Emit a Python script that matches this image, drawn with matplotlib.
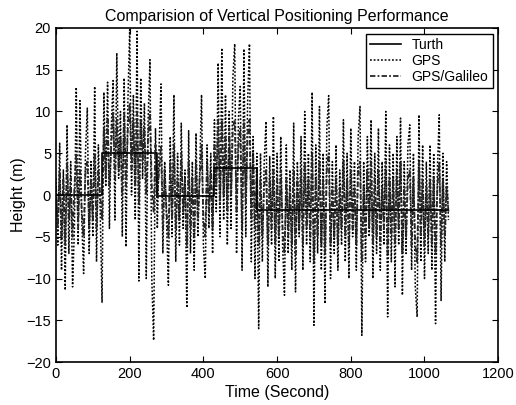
import numpy as np
import matplotlib
matplotlib.use("Agg")
import matplotlib.pyplot as plt

plt.rcParams['font.family'] = ['Liberation Sans', 'DejaVu Sans']

# time axis of the noisy series (seconds, every 5 s)
t = np.arange(0, 1070, 5)

# truth: step levels (m) and where they start
truth_t = [0, 125, 275, 430, 545, 1065]
truth_h = [0, 5, -0.1, 3.2, -1.8, -1.8]

gps = [
    2, -6, 6.2, -9, 3, -11.4, 8.4, -7, 4, -11, -4, 12.9, -6, 11.3, -3, -9.4, 5, 10.4, -7, 4, -5, 13, -8, 6,
    -2, -12.9, 12.3, 1, 13.5, -4, 8, 13.7, -3, 17, 2, 10, -5, 14, -6.2, 11, 19.8, 0, 12, -3, 19.6, -10.3, 14, 2,
    11, -10, 9, 16.2, -10, -17.4, 8, -4, 6, 13.3, -7, 4, -3, -10.8, 7, -5, 12, -8, 5, -6, 8.6, -4, 3, -13.5,
    7.7, -7, 4, -9, 7.4, -5, 3, 12, -6, -10, 6, -4, 5, -7, 9, -2, 15.8, -5, 17.6, -3, 12, -6, 10, -4,
    14, 18.1, -7, 9, 13, -9, 17.5, -5, 11, 18.1, -8, 7, -10, 5, -16, 5, -8, 4, 8.8, -11, 4.6, -6, 9.4, -10,
    5, -8, 7, -6, -12, 6, -7, 3, -9, 8.6, -11.6, 4, -5, 7, -9, 10, -6, 5, -8, 12.3, -15.6, 6, -7, 10.6,
    -9, 5, -13, 8, 11.9, -10, 4, -7, 6, -9, 3, -6, 9, -8, 5, -10, 8, -5, 4, -9, 7, 10.6, -16.8, 4,
    -8, 7, -5, 9, -10, 5, -7, 8, -9, 4, -6, 10, -14.6, 6, -8, 5, -11, 7, -6, 9.2, -12, 4, -7, 6,
    8.4, -9, 5, -11, -14.6, 9.6, -8, 6, -10, 4, -7, 6, -9, 5, -15.4, 3, 9.6, -12.7, 5, -8, 4, -3,
]

gps_gal = [
    1, -4, 3, -5, 2, -6, 4, -3, 2, -5, 1, 5, -4, 3, -2, -5, 3, 4, -4, 2, -3, 5, -4, 3,
    0, -3, 8, 2, 9, 1, 6, 10, 2, 9, 3, 7, 0, 10, 1, 8, 11, 3, 9, 1, 10, -1, 9, 4,
    8, 0, 7, 10, 1, -2, 6, 0, 3, 6, -4, 3, -2, -5, 4, -3, 6, -4, 2, -3, 5, -2, 2, -6,
    4, -4, 2, -5, 4, -3, 2, 6, -3, -5, 4, -2, 3, -4, 6, 1, 9, -1, 9, 0, 7, -2, 8, 0,
    8, 9, -2, 6, 8, -4, 9, -1, 7, 9, -3, 5, -4, 3, -6, 2, -5, 1, 3, -6, 2, -4, 3, -6,
    2, -5, 3, -4, -7, 2, -5, 1, -6, 3, -7, 2, -4, 3, -6, 4, -4, 2, -5, 5, -8, 2, -5, 4,
    -6, 2, -7, 3, 5, -6, 1, -5, 2, -6, 1, -4, 4, -5, 2, -6, 3, -4, 1, -6, 3, 4, -8, 1,
    -5, 3, -4, 4, -6, 2, -5, 3, -6, 1, -4, 4, -7, 2, -5, 2, -6, 3, -4, 4, -7, 1, -5, 2,
    3, -6, 2, -6, -8, 4, -5, 2, -6, 1, -5, 2, -6, 2, -7, 1, 4, -6, 2, -5, 1, -2,
]

fig = plt.figure(figsize=(5.16, 4.05), dpi=100)
ax = fig.add_axes([0.1085, 0.106, 0.857, 0.825])

ax.step(truth_t, truth_h, where='post', color='black', lw=1.2, label='Turth', zorder=3)
ax.plot(t, gps, color='black', ls=(0, (1.2, 1.2)), lw=1.1, label='GPS')
ax.plot(t, gps_gal, color='0.15', ls=(0, (3, 1.2, 1, 1.2)), lw=1.3, label='GPS/Galileo')

ax.set_xlim(0, 1200)
ax.set_ylim(-20, 20)
ax.set_xticks(range(0, 1201, 200))
ax.set_yticks(range(-20, 21, 5))
ax.tick_params(direction='in', top=True, right=True, labelsize=10.5, length=4)
for s in ax.spines.values():
    s.set_linewidth(1.2)

ax.set_title('Comparision of Vertical Positioning Performance', fontsize=11.5, pad=5)
ax.set_xlabel('Time (Second)', fontsize=11.5, labelpad=3)
ax.set_ylabel('Height (m)', fontsize=11.5, labelpad=0)

leg = ax.legend(loc='upper right', fontsize=10, frameon=True, fancybox=False,
                edgecolor='black', framealpha=1, borderaxespad=0.4, handlelength=2.2,
                labelspacing=0.15, borderpad=0.3)
leg.get_frame().set_linewidth(1.0)

fig.savefig('out.png', dpi=100)
